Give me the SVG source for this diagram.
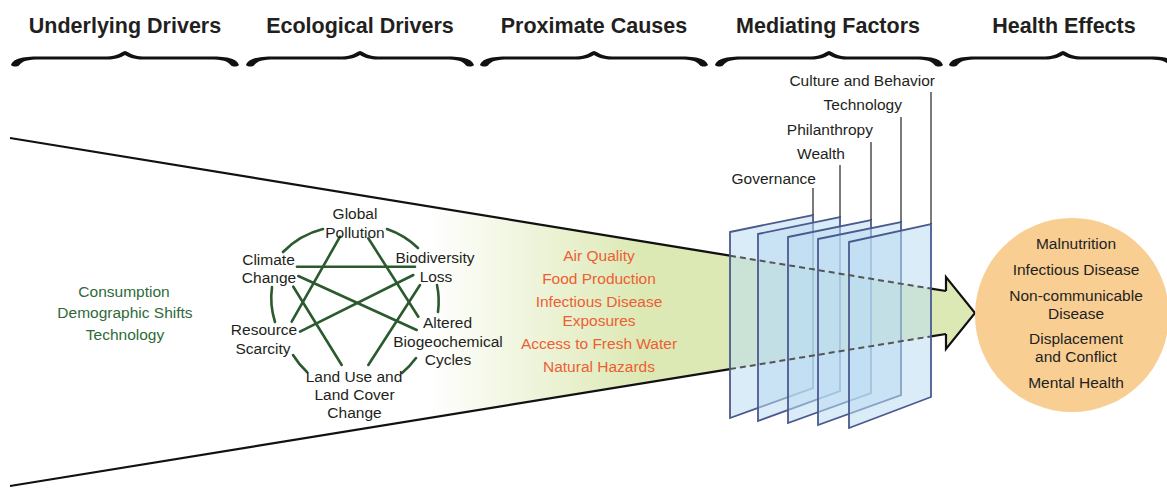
<svg xmlns="http://www.w3.org/2000/svg" xmlns:xlink="http://www.w3.org/1999/xlink" width="1167" height="490" viewBox="0 0 1167 490">
<style>
text{font-family:"Liberation Sans",Arial,sans-serif;font-size:15.5px;fill:#231f20;text-anchor:middle}
.hdr{font-size:21.5px;font-weight:bold}
.grn{fill:#2f6a3a}
.org{fill:#ec5f33}
.lbl{text-anchor:end}
.net{fill:none;stroke:#2a5a2e;stroke-width:2.6;stroke-linecap:round}
.plate{fill:#bcdcf2;fill-opacity:0.55;stroke:#4b5a8e;stroke-width:1.8;stroke-linejoin:miter}
.ln{fill:none;stroke:#111;stroke-width:2.2}
.dash{fill:none;stroke:#555;stroke-width:2;stroke-dasharray:6 4}
.tick{stroke:#333;stroke-width:1.3}
</style>
<defs>
<linearGradient id="fun" gradientUnits="userSpaceOnUse" x1="430" y1="0" x2="640" y2="0">
<stop offset="0" stop-color="#ffffff"/>
<stop offset="1" stop-color="#dde9b5"/>
</linearGradient>
<path id="brace" fill="#111" d="M -114 65 C -112 59 -104 56.5 -85 56.5 L -18 56.5 C -8 56.5 -4 52 0 51 C 4 52 8 56.5 18 56.5 L 85 56.5 C 104 56.5 112 59 114 65 C 112 67 108 67 106 65.5 C 103 61 97 59.5 85 59.5 L 18 59.5 C 8 59.5 3 57 0 55 C -3 57 -8 59.5 -18 59.5 L -85 59.5 C -97 59.5 -103 61 -106 65.5 C -108 67 -112 67 -114 65 Z"/>
</defs>
<rect width="1167" height="490" fill="#ffffff"/>

<g id="headers">
<text class="hdr" x="125" y="33">Underlying Drivers</text>
<text class="hdr" x="360" y="33">Ecological Drivers</text>
<text class="hdr" x="594" y="33">Proximate Causes</text>
<text class="hdr" x="828" y="33">Mediating Factors</text>
<text class="hdr" x="1064" y="33">Health Effects</text>
<use xlink:href="#brace" x="125" y="0"/>
<use xlink:href="#brace" x="360" y="0"/>
<use xlink:href="#brace" x="594" y="0"/>
<use xlink:href="#brace" x="829" y="0"/>
<use xlink:href="#brace" x="1063" y="0"/>
</g>

<g id="funnel">
<polygon points="10,138 946,291 946,277 975,313 946,349 946,334 10,486" fill="url(#fun)"/>
<path class="ln" d="M10 138 L730 255.7 M931 288.6 L946 291 M10 486 L730 369.1 M931 336.4 L946 334"/>
<path class="ln" d="M946 291 L946 277 L975 313 L946 349 L946 334" stroke-linejoin="miter"/>
</g>

<g id="underlying-drivers">
<text class="grn" x="124" y="296.5">Consumption</text>
<text class="grn" x="125" y="318">Demographic Shifts</text>
<text class="grn" x="125" y="340">Technology</text>
</g>

<g id="connectors">
<path class="net" d="M283 252 A84 82 0 0 1 323 229"/>
<path class="net" d="M387 229 A84 82 0 0 1 418 248"/>
<path class="net" d="M437 285 A84 82 0 0 1 438 312"/>
<path class="net" d="M416 358 A84 82 0 0 1 402 373"/>
<path class="net" d="M307 372 A84 82 0 0 1 293 355"/>
<path class="net" d="M275 322 A84 82 0 0 1 272 287"/>
<path class="net" d="M297 266.7 L415 266.7"/>
<path class="net" d="M298.3 276 L416.7 330"/>
<path class="net" d="M293.3 286.7 L341.7 365"/>
<path class="net" d="M340 236.7 L291.7 321.7"/>
<path class="net" d="M368.3 238.3 L418.3 316.7"/>
<path class="net" d="M413.3 275 L300 331.7"/>
<path class="net" d="M420 285 L368.3 365"/>
</g>

<g id="node-global-pollution">
<text x="355" y="218.5">Global</text>
<text x="355" y="237.5">Pollution</text>
</g>
<g id="node-climate-change">
<text x="268.5" y="264.5">Climate</text>
<text x="269" y="282.5">Change</text>
</g>
<g id="node-biodiversity-loss">
<text x="435" y="262.5">Biodiversity</text>
<text x="436" y="281.5">Loss</text>
</g>
<g id="node-resource-scarcity">
<text x="264" y="334.5">Resource</text>
<text x="263" y="353.5">Scarcity</text>
</g>
<g id="node-altered-cycles">
<text x="447.5" y="327.5">Altered</text>
<text x="448" y="346.5">Biogeochemical</text>
<text x="448" y="364.5">Cycles</text>
</g>
<g id="node-land-use">
<text x="354" y="381.5">Land Use and</text>
<text x="354.5" y="399.5">Land Cover</text>
<text x="354.5" y="417.5">Change</text>
</g>

<g id="proximate-causes">
<text class="org" x="599" y="260.5">Air Quality</text>
<text class="org" x="599" y="283.5">Food Production</text>
<text class="org" x="599" y="307">Infectious Disease</text>
<text class="org" x="599" y="325.5">Exposures</text>
<text class="org" x="599" y="348.5">Access to Fresh Water</text>
<text class="org" x="599" y="371.5">Natural Hazards</text>
</g>

<g id="mediating-factors">
<polygon class="plate" points="730,232 813,215 813,388 730,418"/>
<polygon class="plate" points="758,234 840,217 840,391 758,421"/>
<polygon class="plate" points="788,237 871,220 871,393 788,423"/>
<polygon class="plate" points="818,239 901,222 901,395 818,425"/>
<polygon class="plate" points="849,242 931,224 931,397 849,428"/>
<path class="dash" d="M730 255.7 L931 288.6 M730 369.1 L931 336.4"/>
<line class="tick" x1="813" y1="188" x2="813" y2="215"/>
<line class="tick" x1="840" y1="165" x2="840" y2="217"/>
<line class="tick" x1="871" y1="142" x2="871" y2="220"/>
<line class="tick" x1="901" y1="117" x2="901" y2="222"/>
<line class="tick" x1="931" y1="92" x2="931" y2="224"/>
<text class="lbl" x="816" y="183.5">Governance</text>
<text class="lbl" x="845" y="159">Wealth</text>
<text class="lbl" x="873" y="134.5">Philanthropy</text>
<text class="lbl" x="902" y="110">Technology</text>
<text class="lbl" x="935" y="86">Culture and Behavior</text>
</g>

<g id="health-effects">
<circle cx="1072" cy="315" r="97" fill="#f9ce93"/>
<text x="1076" y="248.5">Malnutrition</text>
<text x="1076" y="274.5">Infectious Disease</text>
<text x="1076" y="300.5">Non-communicable</text>
<text x="1076" y="318.8">Disease</text>
<text x="1076" y="344">Displacement</text>
<text x="1076" y="362">and Conflict</text>
<text x="1076" y="388">Mental Health</text>
</g>
</svg>
